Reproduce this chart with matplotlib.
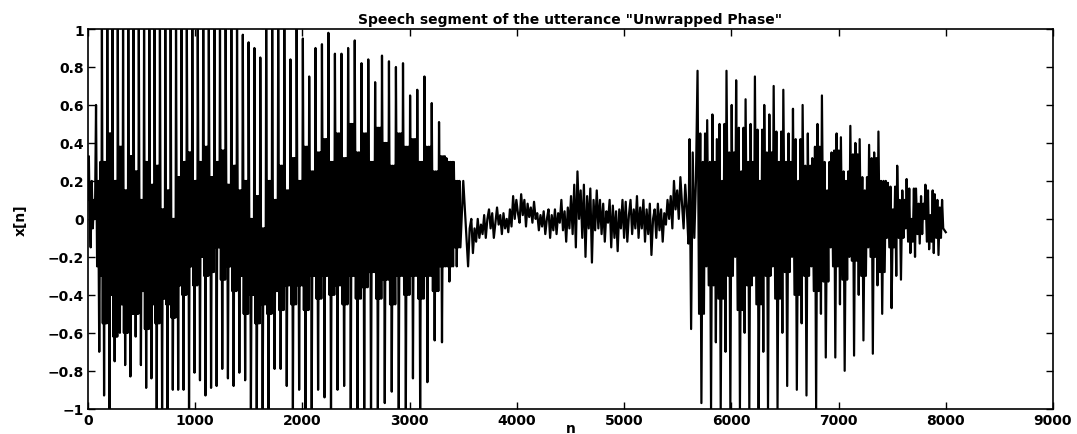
import numpy as np
import matplotlib
matplotlib.use("Agg")
import matplotlib.pyplot as plt
import matplotlib.ticker as ticker

plt.rcParams["font.family"] = ["DejaVu Sans"]
plt.rcParams["font.weight"] = "bold"

# --- onset of the utterance (n 0..125), read point by point
start_n = [0, 8, 15, 25, 35, 45, 55, 65, 75, 85, 95, 105, 115, 125]
start_x = [0.1, 0.33, 0.05, -0.15, 0.2, -0.05, 0.1, 0.0, 0.6, -0.25, 0.2, -0.7, 0.3, -0.3]

# --- first voiced part: one entry per pitch period
onsets1 = [130, 180, 229, 278, 327, 376, 425, 474, 523, 572,
           621, 671, 721, 771, 821, 871, 922, 973, 1024, 1075,
           1127, 1179, 1231, 1284, 1337, 1390, 1444, 1498, 1552, 1607,
           1662, 1718, 1774, 1831, 1888, 1946, 2004, 2063, 2122, 2182,
           2242, 2303, 2364, 2426, 2488, 2551, 2614, 2678, 2742, 2807,
           2872, 2938, 3004, 3071, 3138, 3206, 3274, 3343, 3412]
end1 = 3480
hi1 = [1.0] * 26 + [0.97, 0.93, 0.9, 0.85, 1.0, 1.0, 1.0, 1.0, 0.84, 1.0,
                    0.95, 0.75, 0.9, 0.92, 0.98, 0.87, 0.87, 0.9, 0.94, 0.82,
                    0.84, 0.72, 0.86, 0.83, 0.8, 0.82, 0.65, 0.68, 0.75, 0.61,
                    0.51, 0.32, 0.3]
lo1 = [-0.93, -1.0, -0.75, -0.6, -0.77, -0.83, -0.62, -0.77, -0.89, -0.84,
       -1.0, -1.0, -1.0, -0.9, -0.9, -0.9, -1.0, -0.81, -0.85, -0.93,
       -0.89, -0.88, -0.79, -0.84, -0.88, -0.81, -0.85, -1.0, -1.0, -1.0,
       -1.0, -0.79, -0.79, -0.88, -1.0, -0.9, -1.0, -1.0, -0.9, -0.94,
       -1.0, -0.9, -0.88, -1.0, -1.0, -1.0, -1.0, -1.0, -0.97, -0.91,
       -1.0, -1.0, -0.84, -1.0, -0.86, -0.64, -0.65, -0.33, -0.25]
band1_hi = [0.3, 0.45, 0.2, 0.38, 0.15, 0.33,
            0.25, 0.1, 0.3, 0.18, 0.28, 0.05,
            0.15, 0.0, 0.22, 0.3,
            0.35, 0.2, 0.3, 0.38, 0.22, 0.3, 0.36, 0.18, 0.28, 0.15,
            0.2, 0.0, 0.12, -0.05, 0.2, 0.1, 0.28, 0.15,
            0.32, 0.2, 0.38, 0.25, 0.35, 0.42, 0.3,
            0.45, 0.32, 0.5, 0.35, 0.45, 0.3, 0.48, 0.4, 0.28, 0.45, 0.38,
            0.42, 0.3, 0.38, 0.25, 0.33,
            0.3, 0.2]
band1_lo = [-0.55, -0.4, -0.62, -0.45, -0.6, -0.5,
            -0.5, -0.38, -0.58, -0.45, -0.55, -0.42,
            -0.45, -0.52, -0.35, -0.4,
            -0.25, -0.35, -0.2, -0.3, -0.28, -0.15, -0.32, -0.25, -0.38, -0.3,
            -0.5, -0.4, -0.55, -0.45, -0.5, -0.38, -0.48, -0.35,
            -0.45, -0.35, -0.48, -0.3, -0.42, -0.3, -0.4,
            -0.35, -0.45, -0.3, -0.42, -0.36, -0.28, -0.42, -0.32, -0.45, -0.3, -0.4,
            -0.3, -0.42, -0.3, -0.38, -0.25,
            -0.25, -0.15]
hi1 = hi1[:len(onsets1)]

# --- unvoiced / noisy part, one value every 15 samples from n = 3500
seg2_start, seg2_step = 3500, 15
seg2_x = [0.2, 0.05, -0.1, -0.25, -0.05, 0.0, -0.18,
          -0.05, -0.12, 0.0, -0.1, -0.03, -0.08, 0.02, -0.1, 0.0, 0.05,
          -0.05, 0.03, -0.1, -0.02, 0.06, -0.03, 0.02, -0.08, 0.03, -0.05,
          0.0, -0.07, 0.05, -0.04, 0.12, 0.0, 0.1, 0.03, -0.02, 0.13,
          0.02, 0.1, -0.04, 0.08, 0.01, 0.06, -0.02, 0.09, 0.0, 0.03,
          -0.06, 0.02, -0.04, 0.04, -0.08, 0.0, 0.05, -0.1, 0.02, -0.06,
          0.05, -0.08, 0.03, -0.02, 0.1, -0.06, 0.04, -0.12, 0.06, -0.05,
          0.12, -0.08, 0.18, -0.15, 0.25, 0.0, 0.15, -0.1, 0.18, -0.2,
          0.12, -0.05, 0.16, -0.23, 0.1, -0.06, 0.15, -0.05, 0.1, -0.08,
          0.08, -0.12, 0.04, -0.02, 0.1, -0.15, 0.07, -0.1, 0.04, -0.17,
          0.05, -0.05, 0.1, -0.1, 0.09, -0.12, 0.02, 0.1, -0.08, 0.05,
          -0.05, 0.12, -0.1, 0.06, -0.05, 0.1, -0.12, 0.05, -0.08, 0.08,
          -0.19, 0.0, 0.05, -0.1, 0.08, -0.06, 0.05, -0.12, 0.03, -0.03,
          0.1, 0.0, 0.12, -0.05, 0.2, 0.05, 0.15, 0.0, 0.22, 0.08,
          -0.05, 0.18, 0.05, -0.13]

# --- second voiced part
pre3_n = [5610, 5625, 5640, 5655, 5670]
pre3_x = [0.42, -0.58, 0.35, -0.1, 0.2]
onsets3 = [5685, 5775, 5865, 5955, 6045, 6133, 6220, 6307, 6395, 6485,
           6575, 6665, 6755, 6845, 6935, 7022, 7110, 7197, 7285, 7372,
           7460, 7547, 7635, 7722, 7810, 7897]
end3 = 7985
hi3 = [0.78, 0.52, 0.42, 0.78, 0.73, 0.63, 0.75, 0.6, 0.7, 0.68,
       0.58, 0.6, 0.32, 0.65, 0.35, 0.43, 0.49, 0.42, 0.39, 0.46,
       0.19, 0.28, 0.21, 0.16, 0.18, 0.13]
lo3 = [-0.97, -1.0, -1.0, -1.0, -1.0, -1.0, -1.0, -1.0, -1.0, -0.88,
       -0.9, -0.93, -1.0, -0.73, -0.73, -0.8, -0.72, -0.64, -0.71, -0.5,
       -0.47, -0.32, -0.18, -0.13, -0.16, -0.19]
band3_hi = [0.45, 0.3, 0.5, 0.35, 0.48, 0.3, 0.47, 0.35, 0.46, 0.3,
            0.42, 0.28, 0.38, 0.3, 0.36, 0.25, 0.34, 0.22, 0.32, 0.2,
            0.17, 0.1, 0.16, 0.08, 0.15, 0.1]
band3_lo = [-0.5, -0.35, -0.42, -0.3, -0.48, -0.35, -0.45, -0.3, -0.42, -0.28,
            -0.4, -0.3, -0.38, -0.33, -0.25, -0.32, -0.22, -0.3, -0.2, -0.28,
            -0.15, -0.1, -0.12, -0.08, -0.12, -0.1]
# secondary peaks inside each period of the second voiced part
sub3_hi = [0.3, 0.55, 0.2, 0.6, 0.25, 0.5, 0.2, 0.55, 0.3, 0.45,
           0.2, 0.45, 0.5, 0.15, 0.45, 0.2, 0.4, 0.15, 0.35, 0.2,
           0.05, 0.15, 0.0, 0.12, 0.02, 0.06]
sub3_lo = [-0.25, -0.65, -0.7, -0.2, -0.6, -0.3, -0.7, -0.25, -0.6, -0.2,
           -0.55, -0.25, -0.5, -0.15, -0.45, -0.2, -0.4, -0.15, -0.35, -0.1,
           -0.3, -0.05, -0.2, 0.0, -0.18, -0.05]
end_n = [8000]
end_x = [-0.07]

# where inside a pitch period each read value sits
FRAC = [0.0, 0.16, 0.28, 0.4, 0.54, 0.66, 0.78, 0.9]


def periods(onsets, end, hi, lo, bhi, blo, shi, slo):
    bounds = list(onsets) + [end]
    nn, xx = [], []
    for i in range(len(onsets)):
        p = bounds[i + 1] - bounds[i]
        vals = [hi[i], blo[i], bhi[i], lo[i], shi[i], blo[i], bhi[i], slo[i]]
        for f, v in zip(FRAC, vals):
            nn.append(bounds[i] + f * p)
            xx.append(v)
    return nn, xx


n1, x1 = periods(onsets1, end1, hi1, lo1, band1_hi, band1_lo, band1_hi, band1_lo)
n3, x3 = periods(onsets3, end3, hi3, lo3, band3_hi, band3_lo, sub3_hi, sub3_lo)
n2 = list(seg2_start + seg2_step * np.arange(len(seg2_x)))

n_all = start_n + n1 + n2 + pre3_n + n3 + end_n
x_all = start_x + x1 + seg2_x + pre3_x + x3 + end_x

fig = plt.figure(figsize=(10.77, 4.35), dpi=100)
ax = fig.add_axes([0.0817, 0.058, 0.896, 0.873])
ax.plot(n_all, x_all, color="black", linewidth=1.6)

ax.set_xlim(0, 9000)
ax.set_ylim(-1, 1)
ax.xaxis.set_major_locator(ticker.MultipleLocator(1000))
ax.yaxis.set_major_locator(ticker.MultipleLocator(0.2))
ax.yaxis.set_major_formatter(ticker.FuncFormatter(
    lambda v, pos: f"{v:.1f}".rstrip("0").rstrip(".").replace("-", "\u2212") if abs(v) > 1e-9 else "0"))
ax.tick_params(direction="in", top=True, right=True, length=5, width=1,
               labelsize=10, pad=3)
for lab in ax.get_xticklabels() + ax.get_yticklabels():
    lab.set_fontweight("bold")
for sp in ax.spines.values():
    sp.set_linewidth(1.2)

ax.set_title('Speech segment of the utterance "Unwrapped Phase"',
             fontsize=10, fontweight="bold", pad=4)
ax.set_xlabel("n", fontsize=10, fontweight="bold", labelpad=-4)
ax.set_ylabel("x[n]", fontsize=10, fontweight="bold", labelpad=14)

fig.savefig("out.png", dpi=100)
